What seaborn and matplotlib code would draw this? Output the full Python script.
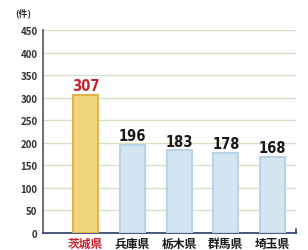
import pandas as pd
import seaborn as sns
import matplotlib.pyplot as plt

prefs = ["茨城県", "兵庫県", "栃木県", "群馬県", "埼玉県"]
counts = [307, 196, 183, 178, 168]
bar_colors = ["#F2D67E", "#D3E6F1", "#D3E6F1", "#D3E6F1", "#D3E6F1"]
edge_colors = ["#E0B64C", "#B9D4E6", "#B9D4E6", "#B9D4E6", "#B9D4E6"]
label_colors = ["#C8232C", "#1A1A1A", "#1A1A1A", "#1A1A1A", "#1A1A1A"]
yticks = [0, 50, 100, 150, 200, 250, 300, 350, 400, 450]

df = pd.DataFrame({"pref": prefs, "count": counts})

sns.set_style("white")
plt.rcParams['font.family'] = ['Noto Sans CJK JP', 'DejaVu Sans']

fig = plt.figure(figsize=(3.08, 2.51), dpi=100)
ax = fig.add_axes([0.14, 0.068, 0.821, 0.808])

sns.barplot(data=df, x="pref", y="count", hue="pref", palette=bar_colors,
            legend=False, width=0.53, ax=ax, zorder=3, saturation=1)
for patch, ec in zip(ax.patches, edge_colors):
    patch.set_edgecolor(ec)
    patch.set_linewidth(1.5)

ax.set_ylim(0, 450)
ax.set_xlim(-0.91, 4.5)
ax.set_yticks(yticks)
ax.set_yticklabels([str(t) for t in yticks], fontsize=7, fontweight="bold", color="#333333")
ax.yaxis.grid(True, color="#D6E2C8", linewidth=1, zorder=0)
ax.set_xlabel("")
ax.set_ylabel("")
ax.tick_params(axis="y", length=3, width=0.8, pad=1, color="#444444")
ax.tick_params(axis="x", length=0, pad=3)

ax.set_xticks(range(len(prefs)))
ax.set_xticklabels(prefs, fontsize=8.5, fontweight="bold")
for lab, c in zip(ax.get_xticklabels(), label_colors):
    lab.set_color(c)

for i, (v, c) in enumerate(zip(counts, label_colors)):
    ax.text(i, v + 4, str(v), ha="center", va="bottom", fontsize=10.5,
            fontweight="bold", color=c, family="DejaVu Sans", stretch="condensed")

for side in ["top", "right"]:
    ax.spines[side].set_visible(False)
ax.spines["left"].set_color("#555555")
ax.spines["left"].set_linewidth(1.2)
ax.spines["bottom"].set_color("#2B3A6B")
ax.spines["bottom"].set_linewidth(1.2)
ax.plot([4.5, 4.5], [0, 8], color="#2B3A6B", lw=1.2, clip_on=False)

fig.text(0.05, 0.935, "(件)", fontsize=6.5, fontweight="bold", color="#333333")

fig.savefig("out.png", dpi=100)
